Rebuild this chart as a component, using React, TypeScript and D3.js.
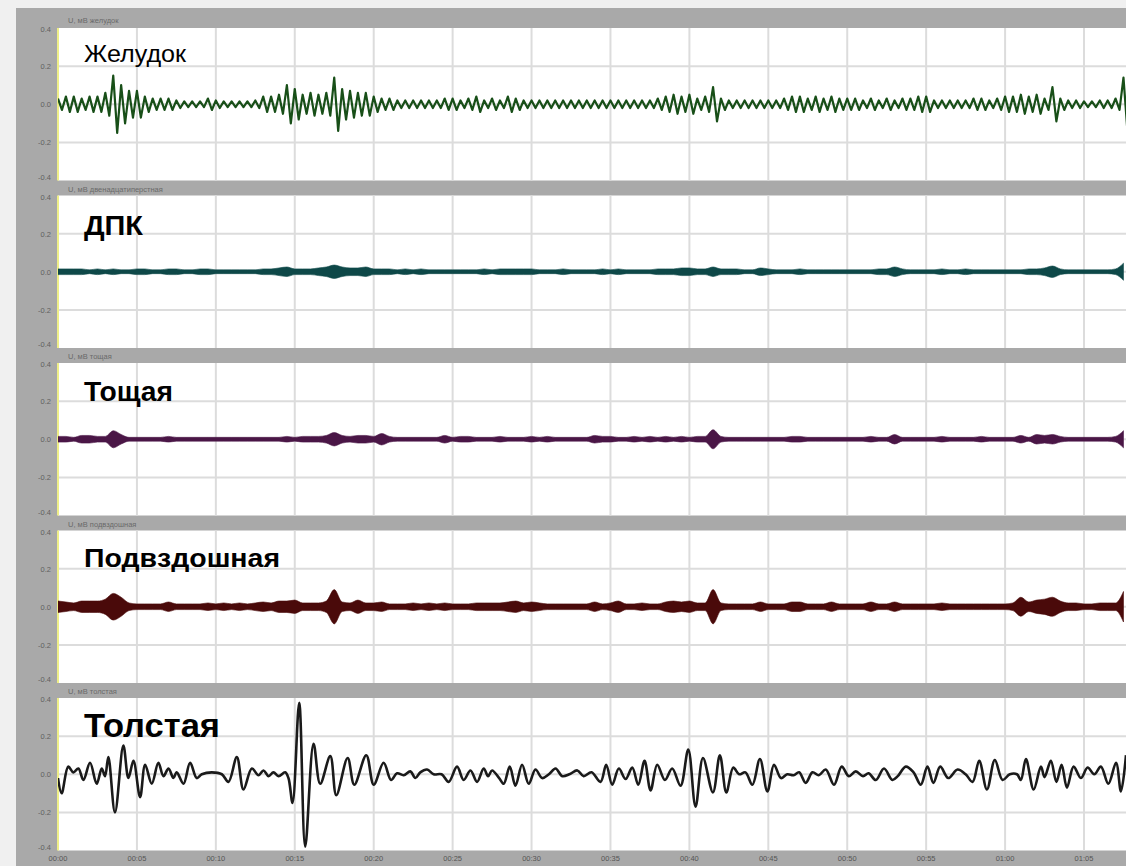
import React from 'react';
import * as d3 from 'd3';

// ---------- labels ----------
const PANEL_NAMES = ['Желудок', 'ДПК', 'Тощая', 'Подвздошная', 'Толстая'];
const BAR_LABELS = ['U, мВ   желудок', 'U, мВ   двенадцатиперстная', 'U, мВ   тощая', 'U, мВ   подвздошная', 'U, мВ   толстая'];
const PANEL_COLORS = ['#184f18', '#0e4848', '#4a1646', '#4a0a0a', '#1a1a1a'];
const Y_TICKS = [0.4, 0.2, 0, -0.2, -0.4];
const Y_TICK_LABELS = ['0.4', '0.2', '0.0', '-0.2', '-0.4'];
const X_TICK_SECONDS = [0, 5, 10, 15, 20, 25, 30, 35, 40, 45, 50, 55, 60, 65];
const X_TICK_LABELS = ['00:00', '00:05', '00:10', '00:15', '00:20', '00:25', '00:30', '00:35', '00:40', '00:45', '00:50', '00:55', '01:00', '01:05'];

// ---------- data: envelope amplitude (x0.01 mV) per 0.5 s bin ----------
const ENV_STEP = 0.5;
const STOMACH_ENV = [
  3, 4, 4, 3, 4, 4, 6, 15, 10, 7, 7, 4, 3, 3, 3, 2, 1.5, 1.5, 1.5, 3,
  2, 1.5, 1.5, 1.5, 1.5, 2, 4, 4, 5, 10, 8, 5, 6, 5, 6, 14, 8, 7, 6, 6,
  4, 3, 3, 2, 2, 2, 2, 2, 2, 3, 3, 2, 3, 4, 2, 3, 2, 4, 3, 2,
  2, 2, 2, 2, 2, 2, 2, 2, 2, 2, 2, 2, 2, 2, 2, 2, 3, 4, 5, 4,
  5, 3, 4, 9, 3, 2, 2, 2, 2, 2, 2, 2, 3, 4, 4, 3, 4, 3, 4, 3,
  3, 3, 2, 3, 2, 3, 2, 3, 3, 4, 4, 2, 2, 2, 2, 2, 3, 3, 2, 3,
  4, 4, 5, 4, 5, 3, 9, 3, 2, 2, 1.5, 1.5, 2, 2, 3, 14,
];
const DUODENUM_ENV = [
  1.5, 1.5, 1.5, 1.5, 1, 1.5, 1, 1.5, 1, 1, 1.5, 1.5, 1, 1, 1.5, 1.5, 1, 1, 1.5, 1.5,
  1, 1, 1, 1, 1, 1, 1.5, 1.5, 2, 2.5, 1.5, 1.5, 1.5, 2, 2.5, 3.5, 2.5, 2, 2, 2.5,
  1.5, 1.5, 1.5, 1, 1.5, 1, 1.5, 1, 1, 1, 1, 1, 1, 1, 1.5, 1, 1.5, 1.5, 1.5, 1.5,
  1.5, 1, 1, 1, 1.5, 1, 1, 1, 1, 1.5, 1, 1.5, 1, 1, 1, 1, 1.5, 1.5, 1.5, 2,
  2, 1.5, 1.5, 2.5, 1.5, 1.5, 1.5, 1, 1, 2, 1.5, 1, 1, 1, 1.5, 1, 1, 1, 1, 1,
  1, 1, 1, 1, 1.5, 1.5, 2.5, 1.5, 1, 1, 1, 1, 1.5, 1, 1, 1.5, 1, 1, 1, 1,
  1, 1, 1, 1.5, 1.5, 2, 3, 1.5, 1, 1, 1, 1, 1, 1, 1.5, 4.5,
];
const JEJUNUM_ENV = [
  1.5, 1.5, 1, 2, 2, 1.5, 1.5, 4.5, 2.5, 1, 1, 1, 1, 1, 1.5, 1, 1, 1, 1, 1,
  1, 1, 1, 1, 1, 1, 1, 1, 1, 1.5, 1, 1.5, 1.5, 1.5, 2, 3.5, 2, 1.5, 2, 2,
  1.5, 3, 1.5, 1, 1, 1, 1, 1, 1, 2, 1, 1.5, 1.5, 1, 1, 1, 1.5, 1, 1, 1,
  1.5, 1, 1.5, 1, 1, 1, 1, 1, 2, 1.5, 1.5, 1, 1, 1.5, 1, 1.5, 1, 1.5, 1, 1.5,
  1, 1.5, 1.5, 5, 1.5, 1, 1, 1, 1, 1, 1, 1, 1, 1.5, 1.5, 1, 1, 1, 1, 1,
  1, 1, 1, 1.5, 1, 1, 2.5, 1, 1, 1, 1, 1, 1.5, 1, 1, 1, 1, 1.5, 1, 1,
  1, 1, 2, 1, 2.5, 2, 2.5, 1.5, 1, 1, 1, 1, 1, 1, 1.5, 4.5,
];
const ILEUM_ENV = [
  3, 2.5, 2, 3, 3, 3, 4, 7, 5, 2, 1.5, 1.5, 1.5, 1.5, 2.5, 1.5, 1.5, 1.5, 1.5, 2,
  1.5, 2, 1.5, 2, 1.5, 2, 2.5, 2, 3, 3, 3.5, 2, 2, 2, 3, 9, 2.5, 2, 3.5, 2,
  2, 2.5, 1.5, 1.5, 1.5, 2, 1.5, 2, 1.5, 2, 1.5, 1.5, 1.5, 2, 2, 2, 2, 2.5, 3, 2,
  2.5, 2, 1.5, 1.5, 1.5, 1.5, 1.5, 1.5, 2.5, 1.5, 2, 3, 1.5, 1.5, 2, 1.5, 1.5, 2.5, 3, 2.5,
  3, 2, 2, 9, 2, 1.5, 1.5, 1.5, 1.5, 2.5, 1.5, 1.5, 1.5, 2.5, 2.5, 1.5, 1.5, 1.5, 2.5, 1.5,
  1.5, 1.5, 1.5, 2.5, 1.5, 1.5, 2.5, 1.5, 1.5, 1.5, 1.5, 1.5, 2, 1.5, 1.5, 1.5, 1.5, 1.5, 1.5, 1.5,
  1.5, 2, 5, 2.5, 3.5, 4, 5, 3, 2, 2, 1.5, 1.5, 2, 2, 2, 8,
];
const ENVELOPES = [STOMACH_ENV, DUODENUM_ENV, JEJUNUM_ENV, ILEUM_ENV];

// ---------- data: colon signal extrema [seconds, x0.01 mV] ----------
const COLON_POINTS: [number, number][] = [
  [0, -2], [0.23, -10], [0.65, 4], [0.97, 1], [1.29, 3], [1.61, -3], [2.03, 6], [2.45, -5], [2.77, 3], [2.98, -1],
  [3.19, 9], [3.61, -20], [4.14, 15], [4.46, -2], [4.78, 7], [5.2, -12], [5.52, 5], [5.94, -5], [6.36, 6], [6.68, -1],
  [7.0, 3], [7.31, -2], [7.52, 1], [7.95, -5], [8.37, 6], [8.79, -2], [9.11, 0], [9.74, 1], [10.38, 0], [10.8, -4],
  [11.33, 9], [11.75, -8], [12.28, 3], [12.7, -0.5], [13.02, 2], [13.34, -1], [13.65, 1], [13.97, -1], [14.39, 1], [14.6, -2],
  [14.86, -15], [15.28, 37.5], [15.66, -38], [16.19, 16], [16.61, -5], [17.25, 9.5], [17.63, -11], [18.35, 8.5], [18.77, -5.5], [19.53, 10],
  [20.0, -5.5], [20.63, 6], [21.1, -3], [21.48, 0.5], [21.9, -0.5], [22.32, 1.5], [22.64, -2], [22.95, 1], [23.38, 2.5], [23.8, 0],
  [24.3, 0], [24.75, -4], [25.28, 4], [25.7, -3], [26.13, 2], [26.55, -4], [26.97, 3], [27.25, -1], [27.5, 2], [27.95, -2],
  [28.24, -5], [28.62, 4], [28.98, -6], [29.4, 5], [29.82, -5], [30.25, 2.5], [30.67, -2], [31.1, 0], [31.52, 3], [31.95, -1],
  [32.4, 0], [32.9, 2], [33.3, -1], [33.8, 1], [34.37, -4], [34.73, 5], [35.11, -5.5], [35.53, 3], [35.96, -2.5], [36.38, 3.5],
  [36.76, -5.5], [37.16, 7], [37.54, -8.5], [37.96, 5], [38.45, -3], [38.91, 3], [39.44, -6], [39.93, 13], [40.39, -17], [40.86, 8.5],
  [41.49, -9.5], [41.93, 10], [42.34, -9.5], [42.78, 3.5], [43.15, 0], [43.55, 1], [43.99, -5.5], [44.47, 8], [44.94, -9], [45.36, 5],
  [45.8, -2], [46.2, 0], [46.6, -0.5], [46.95, 1], [47.37, -4.5], [47.8, 1], [48.2, -0.5], [48.64, 2.5], [49.16, -5.5], [49.65, 4],
  [50.1, -1], [50.54, 1.5], [51.0, -1], [51.35, 0.5], [51.81, -3], [52.33, 3], [52.86, -3], [53.2, -1], [53.71, 4], [54.2, 1],
  [54.66, -5.5], [55.08, 4], [55.46, -4.5], [55.89, 4], [56.4, -2], [56.99, 2.5], [57.5, 0], [57.94, -4], [58.36, 7], [58.85, -8],
  [59.35, 7.5], [59.84, -3], [60.3, 0], [60.75, 0], [61.0, -3], [61.32, 8], [61.81, -8], [62.27, 4], [62.5, -1.5], [62.9, 7],
  [63.25, -4], [63.58, 5], [63.92, -7], [64.34, 4], [64.8, -2], [65.23, 3.5], [65.65, 0], [66.07, 4], [66.54, -5], [67.03, 6],
  [67.34, -9], [67.66, 10],
];

// ---------- layout ----------
const W = 1126;
const H = 866;
const FRAME_X = 16;
const FRAME_Y = 8;
const PLOT_X = 58;
const PLOT_RIGHT = 1126;
const FIRST_PLOT_TOP = 28;
const PITCH = 167.5;
const PLOT_H = 152.5;
const BAR_H = 15;
const T_MAX = 67.66;

const SMALL_FONT = "'Liberation Sans', Arial, sans-serif";

export default function App() {
  const x = d3.scaleLinear().domain([0, T_MAX]).range([PLOT_X, PLOT_RIGHT]);

  return (
    <svg width={W} height={H} style={{ position: 'absolute', left: 0, top: 0, display: 'block' }}
      xmlns="http://www.w3.org/2000/svg">
      <defs>
        <clipPath id="plotclip">
          <rect x={PLOT_X} y={0} width={PLOT_RIGHT - PLOT_X} height={H} />
        </clipPath>
      </defs>
      <rect x={0} y={0} width={W} height={H} fill="#f0f0f0" />
      <rect x={FRAME_X} y={FRAME_Y} width={W - FRAME_X} height={H - FRAME_Y} fill="#a9a9a9" />
      {PANEL_NAMES.map((name, p) => {
        const top = FIRST_PLOT_TOP + p * PITCH;
        const bottom = top + PLOT_H;
        const y = d3.scaleLinear().domain([-0.4, 0.4]).range([bottom, top]);
        const barTop = p === 0 ? FRAME_Y : top - BAR_H;
        let signal: React.ReactNode = null;
        const color = PANEL_COLORS[p];
        if (p === 0) {
          // min/max decimation: each 0.5 s bin drawn as its max then its min
          const env = ENVELOPES[p];
          const pts: [number, number][] = [];
          env.forEach((a, i) => {
            pts.push([i * ENV_STEP, a]);
            pts.push([i * ENV_STEP + ENV_STEP / 2, -a]);
          });
          const line = d3.line<[number, number]>()
            .x((d) => x(d[0]))
            .y((d) => y(d[1] / 100));
          signal = <path d={line(pts) || ''} fill="none" stroke={color} strokeWidth={2.2} strokeLinejoin="round" />;
        } else if (p < 4) {
          const env = ENVELOPES[p];
          const area = d3.area<number>()
            .x((_, i) => x(i * ENV_STEP))
            .y0((d) => y(-d / 100))
            .y1((d) => y(d / 100))
            .curve(d3.curveMonotoneX);
          signal = <path d={area(env) || ''} fill={color} stroke={color} strokeWidth={0.6} strokeLinejoin="round" />;
        } else {
          const line = d3.line<[number, number]>()
            .x((d) => x(d[0]))
            .y((d) => y(d[1] / 100))
            .curve(d3.curveCatmullRom.alpha(0.5));
          signal = <path d={line(COLON_POINTS) || ''} fill="none" stroke={color} strokeWidth={2.6} strokeLinejoin="round" />;
        }
        const nameStyle = [
          { size: 23, weight: 400, base: 62, len: 102 },
          { size: 27, weight: 700, base: 235, len: 59 },
          { size: 27, weight: 700, base: 401, len: 89 },
          { size: 26, weight: 700, base: 567, len: 196 },
          { size: 34, weight: 700, base: 737, len: 136 },
        ][p];
        return (
          <g key={p}>
            {/* title bar text */}
            <text x={68} y={barTop + (p === 0 ? 15 : 11)} fontFamily={SMALL_FONT} fontSize={7.5}
              fill="#6a6a6a">{BAR_LABELS[p]}</text>
            {/* plot area */}
            <rect x={PLOT_X} y={top} width={PLOT_RIGHT - PLOT_X} height={PLOT_H} fill="#ffffff" />
            {X_TICK_SECONDS.filter((s) => s > 0).map((s) => (
              <line key={s} x1={x(s)} x2={x(s)} y1={top} y2={bottom} stroke="#dcdcdc" strokeWidth={2} />
            ))}
            {[0.2, 0, -0.2].map((v) => (
              <line key={v} x1={PLOT_X} x2={PLOT_RIGHT} y1={y(v)} y2={y(v)} stroke="#dcdcdc" strokeWidth={2} />
            ))}
            <line x1={PLOT_X} x2={PLOT_X} y1={top} y2={bottom} stroke="#eeee88" strokeWidth={2} />
            {/* y tick labels */}
            {Y_TICKS.map((v, i) => {
              let yy = y(v) + 3;
              if (i === 0) yy = top + 4;
              if (i === Y_TICKS.length - 1) yy = bottom - 1;
              return (
                <text key={v} x={51} y={yy} textAnchor="end" fontFamily={SMALL_FONT} fontSize={7.5}
                  fill="#606060">{Y_TICK_LABELS[i]}</text>
              );
            })}
            {/* signal */}
            <g clipPath="url(#plotclip)">{signal}</g>
            {/* panel name */}
            <text x={84} y={nameStyle.base} fontFamily="Arial, 'Liberation Sans', sans-serif"
              fontSize={nameStyle.size} fontWeight={nameStyle.weight} fill="#000"
              textLength={nameStyle.len} lengthAdjust="spacingAndGlyphs">{name}</text>
          </g>
        );
      })}
      {/* x tick labels */}
      {X_TICK_SECONDS.map((s, i) => (
        <text key={s} x={x(s)} y={861} textAnchor="middle" fontFamily={SMALL_FONT} fontSize={7.5}
          fill="#555555">{X_TICK_LABELS[i]}</text>
      ))}
    </svg>
  );
}
